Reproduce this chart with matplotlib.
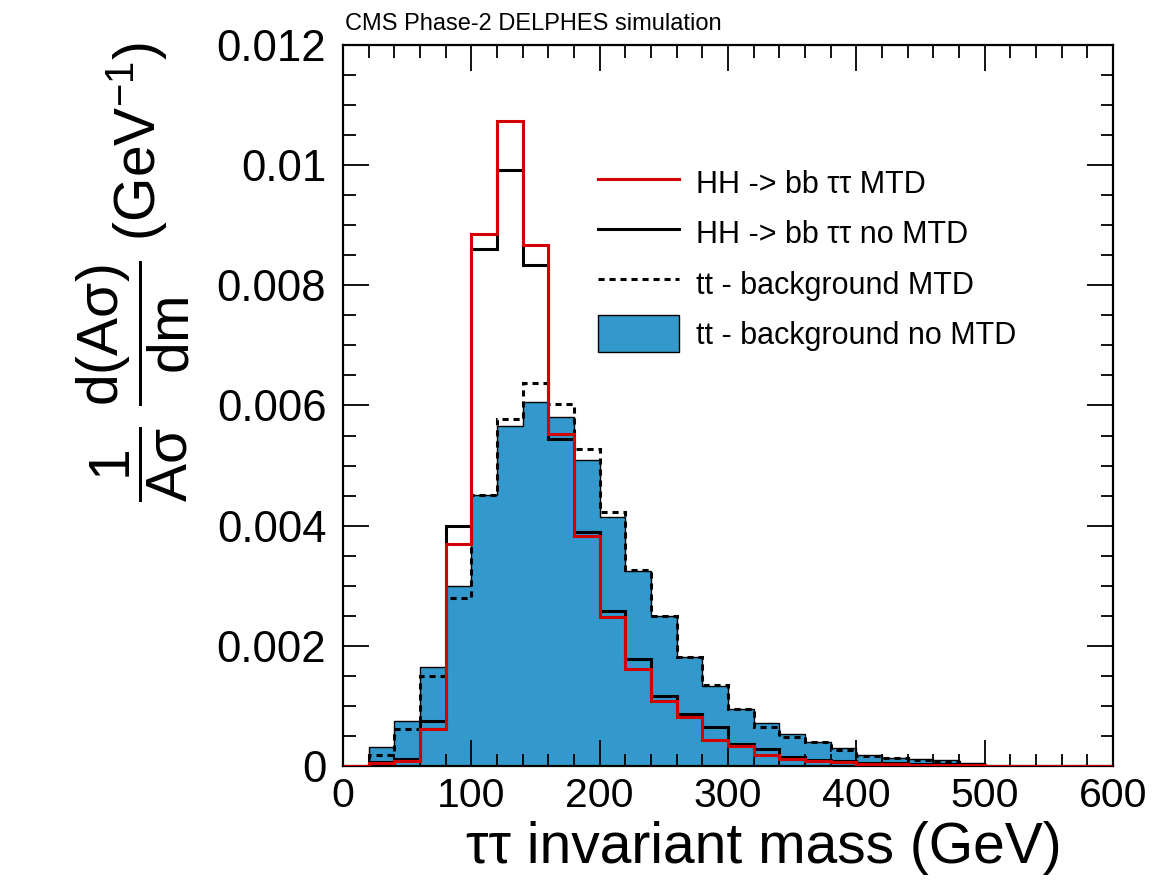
import numpy as np
import matplotlib
matplotlib.use("Agg")
from matplotlib import pyplot as plt
from matplotlib.ticker import MultipleLocator, FormatStrFormatter
from matplotlib.lines import Line2D
from matplotlib.patches import Patch

plt.rcParams['font.family'] = ['Liberation Sans', 'DejaVu Sans']
plt.rcParams['mathtext.fontset'] = 'custom'
plt.rcParams['mathtext.rm'] = 'Liberation Sans'
plt.rcParams['mathtext.it'] = 'Liberation Sans'
plt.rcParams['mathtext.sf'] = 'Liberation Sans'

# bins de 20 GeV entre 0 y 600
bin_edges = np.arange(0, 620, 20)

# HH -> bb tautau con MTD (rojo)
hh_mtd = [0, 0.00005, 0.00009, 0.00061, 0.00369, 0.00886, 0.01073, 0.00867, 0.00553, 0.00382,
          0.00248, 0.00161, 0.00108, 0.00081, 0.00043, 0.00033, 0.00018, 0.00012, 0.00008, 0.00006,
          0.00004, 0.00003, 0.00002, 0.00002, 0.00001, 0, 0, 0, 0, 0]
# HH -> bb tautau sin MTD (negro)
hh_nomtd = [0, 0.00007, 0.00011, 0.00075, 0.00400, 0.00860, 0.00992, 0.00834, 0.00544, 0.00389,
            0.00258, 0.00178, 0.00117, 0.00087, 0.00065, 0.00037, 0.00028, 0.00015, 0.00010, 0.00008,
            0.00005, 0.00005, 0.00004, 0.00003, 0.00001, 0, 0, 0, 0, 0]
# tt fondo con MTD (discontinua)
tt_mtd = [0, 0.00019, 0.00061, 0.00150, 0.00280, 0.00451, 0.00577, 0.00638, 0.00603, 0.00527,
          0.00422, 0.00326, 0.00250, 0.00182, 0.00134, 0.00095, 0.00065, 0.00049, 0.00040, 0.00027,
          0.00016, 0.00013, 0.00010, 0.00007, 0.00003, 0, 0, 0, 0, 0]
# tt fondo sin MTD (relleno azul)
tt_nomtd = [0, 0.00031, 0.00075, 0.00165, 0.00300, 0.00451, 0.00565, 0.00606, 0.00580, 0.00509,
            0.00415, 0.00325, 0.00250, 0.00181, 0.00133, 0.00095, 0.00071, 0.00053, 0.00040, 0.00030,
            0.00018, 0.00014, 0.00012, 0.00010, 0.00005, 0, 0, 0, 0, 0]

labels = ['HH -> bb ττ MTD', 'HH -> bb ττ no MTD', 'tt - background MTD', 'tt - background no MTD']

azul = '#3399cc'
rojo = '#d40000'
guiones = (0, (2.0, 1.6))

fig = plt.figure(figsize=(11.52, 8.92), dpi=100)
ax = fig.add_axes([0.2977, 0.1413, 0.6684, 0.8083])

ax.stairs(tt_nomtd, bin_edges, fill=True, color=azul, zorder=1)
ax.stairs(tt_nomtd, bin_edges, color='black', lw=1.0, zorder=2)
ax.stairs(tt_mtd, bin_edges, color='black', lw=2.2, linestyle=guiones, zorder=3)
ax.stairs(hh_nomtd, bin_edges, color='black', lw=2.2, zorder=4)
ax.stairs(hh_mtd, bin_edges, color=rojo, lw=2.2, zorder=5)

ax.set_xlim(0, 600)
ax.set_ylim(0, 0.012)

ax.xaxis.set_major_locator(MultipleLocator(100))
ax.xaxis.set_minor_locator(MultipleLocator(20))
ax.yaxis.set_major_locator(MultipleLocator(0.002))
ax.yaxis.set_minor_locator(MultipleLocator(0.0005))
ax.yaxis.set_major_formatter(FormatStrFormatter('%g'))

ax.tick_params(which='both', direction='in', top=True, right=True, width=1.3)
ax.tick_params(which='major', length=19)
ax.tick_params(which='minor', length=9)
ax.tick_params(axis='x', labelsize=29.5, pad=8)
ax.tick_params(axis='y', labelsize=31.5, pad=12)
for s in ax.spines.values():
    s.set_linewidth(1.6)

# leyenda
handles = [Line2D([], [], color=rojo, lw=2.2),
           Line2D([], [], color='black', lw=2.2),
           Line2D([], [], color='black', lw=2.2, linestyle=guiones),
           Patch(facecolor=azul, edgecolor='black', lw=1.0)]
ax.legend(handles, labels, loc='upper left', bbox_to_anchor=(0.331, 0.834), frameon=False,
          fontsize=22, handlelength=2.65, handleheight=1.5, handletextpad=0.55,
          labelspacing=0.42, borderpad=0, borderaxespad=0)

fig.text(0.2995, 0.973, 'CMS Phase-2 DELPHES simulation', fontsize=17, va='center', ha='left')

fig.text(764 / 1152, 1 - 848 / 892, 'ττ invariant mass (GeV)', fontsize=41, ha='center', va='center')
fig.text(133 / 1152, 1 - 272 / 892,
         r'$\dfrac{1}{A\sigma}\ \dfrac{d(A\sigma)}{dm}$ (GeV$^{-1}$)',
         fontsize=41, rotation=90, ha='center', va='center')

fig.savefig('out.png', dpi=100)
